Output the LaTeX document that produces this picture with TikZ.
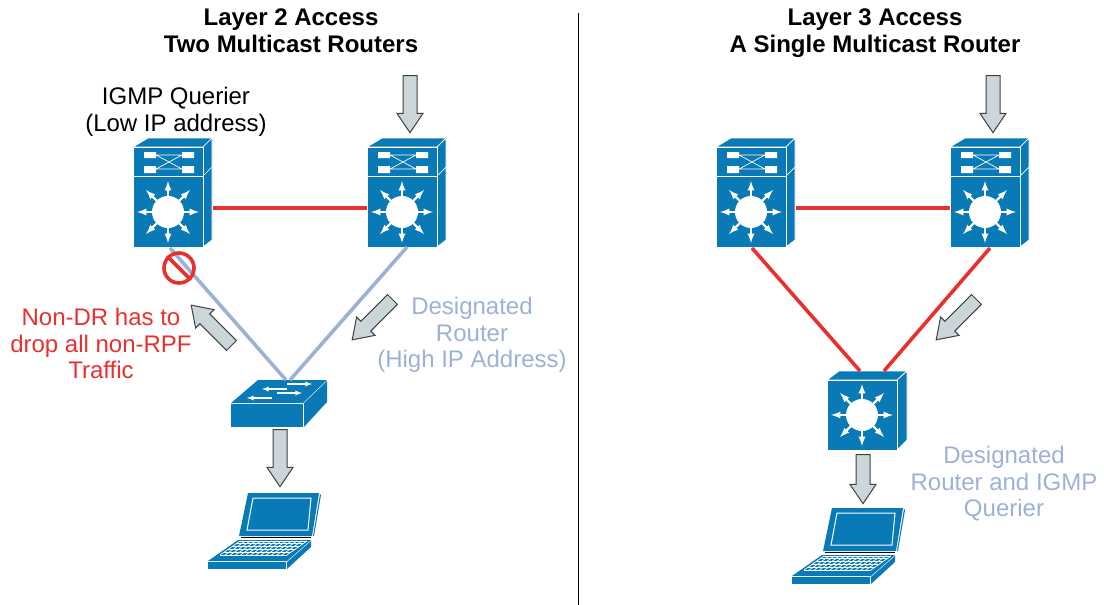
\documentclass[tikz,border=0pt]{standalone}
\usepackage{fontspec}
\setmainfont{Liberation Sans}
\usetikzlibrary{arrows,shapes,shapes.arrows,calc}
\definecolor{ciscoblue}{HTML}{0A7AB6}
\definecolor{linkred}{HTML}{E8302F}
\definecolor{linkblue}{HTML}{9DB1D6}
\definecolor{arrowgray}{HTML}{CBD6DB}

% star of arrows on a router face
\newcommand{\routerstar}[2]{
  \foreach \ang in {0,45,...,315}
    \draw[white, line width=2.2pt, -latex] (#1,#2) -- ++(\ang:31pt);
  \fill[white] (#1,#2) circle (16pt);
}
% layer 3 switch with two panels, origin at top left of the front
\newcommand{\stackedswitch}[3]{
  \begin{scope}[shift={(#2,#3)}]
    \node[hitbox, minimum width=80pt, minimum height=78pt] (#1) at (40,61) {};
    \filldraw[ciscoblue, draw=white, line width=0.7pt] (0,0) -- (15,-9) -- (79,-9) -- (70,0) -- cycle;
    \filldraw[ciscoblue, draw=white, line width=0.7pt] (70,0) -- (79,-9) -- (79,93) -- (70,100) -- cycle;
    \filldraw[ciscoblue, draw=white, line width=0.7pt] (0,0) rectangle (70,29);
    \filldraw[ciscoblue, draw=white, line width=0.7pt] (0,29) rectangle (70,100);
    \draw[white, line width=0.7pt] (70,29) -- (79,20);
    \fill[white] (11,5) rectangle (23,11) (11,19) rectangle (23,26);
    \fill[white] (49,5) rectangle (61,11) (49,19) rectangle (61,26);
    \draw[white, line width=0.7pt] (23,8) -- (49,8) (23,22) -- (49,22) (23,8) -- (49,22) (23,22) -- (49,8);
    \routerstar{35}{65}
  \end{scope}
}
% single router cube
\newcommand{\cuberouter}[3]{
  \begin{scope}[shift={(#2,#3)}]
    \node[hitbox, minimum width=80pt, minimum height=79pt] (#1) at (40,30.5) {};
    \filldraw[ciscoblue, draw=white, line width=0.7pt] (0,0) -- (12,-9) -- (80,-9) -- (70,0) -- cycle;
    \filldraw[ciscoblue, draw=white, line width=0.7pt] (70,0) -- (80,-9) -- (80,60) -- (70,70) -- cycle;
    \filldraw[ciscoblue, draw=white, line width=0.7pt] (0,0) rectangle (70,70);
    \routerstar{35}{35}
  \end{scope}
}
% flat access switch
\newcommand{\accessswitch}[3]{
  \begin{scope}[shift={(#2,#3)}]
    \node[hitbox, minimum width=96pt, minimum height=47pt] (#1) at (48,23.5) {};
    \fill[ciscoblue] (0,23) -- (27,0) -- (96,0) -- (72,23) -- cycle;
    \fill[ciscoblue] (0,24) rectangle (72,47);
    \fill[ciscoblue] (73,23) -- (96,1) -- (96,22) -- (73,47) -- cycle;
    \draw[white, line width=1.3pt, -latex] (56,4) -- (81,4);
    \draw[white, line width=1.3pt, -latex] (56,9) -- (31,9);
    \draw[white, line width=1.3pt, -latex] (46,13) -- (71,13);
    \draw[white, line width=1.3pt, -latex] (41,18) -- (16,18);
  \end{scope}
}
% laptop, origin at left corner and top of the screen
\newcommand{\laptop}[3]{
  \begin{scope}[shift={(#2,#3)}]
    \node[hitbox, minimum width=113pt, minimum height=76pt] (#1) at (56.5,38) {};
    \fill[ciscoblue] (40,0) -- (111,0) -- (104,43) -- (31,43) -- cycle;
    \fill[ciscoblue] (112,1) -- (113,2) -- (106,43) -- (105,43) -- cycle;
    \draw[white, line width=1pt] (45,5) -- (103,5) -- (100,37) -- (39,37) -- cycle;
    \draw[black, line width=0.8pt] (33,44) -- (103,44);
    \fill[ciscoblue] (30,47) -- (103,47) -- (79,68) -- (0,68) -- cycle;
    \fill[ciscoblue] (0,69) rectangle (78,76);
    \fill[ciscoblue] (79,69) -- (103,48) -- (103,54) -- (79,76) -- cycle;
    \foreach \row in {0,1,...,5}
      \draw[white, line width=0.7pt] (32-\row*4,48+\row*2.8) -- (99-\row*4,48+\row*2.8);
    \foreach \col in {0,1,...,13}
      \draw[white, line width=0.7pt] (32+\col*5.15,48) -- (12+\col*5.15,62);
  \end{scope}
}

\begin{document}
\begin{tikzpicture}[x=1pt, y=-1pt]
\tikzstyle{hitbox}=[rectangle, inner sep=0pt, outer sep=0pt]
\tikzstyle{title}=[anchor=north, inner sep=0pt, align=center, font=\fontsize{24}{27}\selectfont\bfseries]
\tikzstyle{caption}=[anchor=north, inner sep=0pt, align=center, font=\fontsize{24}{26.5}\selectfont]
\tikzstyle{bigarrow}=[single arrow, draw=black!75, fill=arrowgray, line width=1pt, inner xsep=0pt, inner ysep=6.5pt,
  single arrow head extend=6pt, single arrow head indent=0pt, single arrow tip angle=68]
\tikzstyle{redlink}=[linkred, line width=3.6pt]
\tikzstyle{bluelink}=[linkblue, line width=3.6pt]

  \useasboundingbox (0,0) rectangle (1104,605);

  % divider
  \node[hitbox] (divtop) at (578,12) {};
  \node[hitbox] (divbot) at (578,605) {};
  \draw[black, line width=0.9pt] (divtop) -- (divbot);

  % headings
  \node[title] (lefthead)  at (291,9) {Layer 2 Access\\Two Multicast Routers};
  \node[title] (righthead) at (875,9) {Layer 3 Access\\A Single Multicast Router};

  % devices
  \stackedswitch{sqa}{133}{147}
  \stackedswitch{drb}{367}{147}
  \stackedswitch{rta}{716}{147}
  \stackedswitch{rtb}{950}{147}
  \accessswitch{acc}{231}{380}
  \cuberouter{cube}{827}{380}
  \laptop{pca}{208}{493}
  \laptop{pcb}{792}{508}

  % links
  \draw[redlink] (sqa.east) -- (drb.west);
  \draw[redlink] (rta.east) -- (rtb.west);
  \draw[bluelink] ([xshift=-3pt, yshift=-1pt]sqa.south) -- ([xshift=7pt]acc.north);
  \draw[bluelink] (drb.south) -- ([xshift=11pt]acc.north);
  \draw[redlink] ([xshift=-4pt, yshift=-1pt]rta.south) -- ([xshift=-7pt]cube.north);
  \draw[redlink] ([yshift=-1pt]rtb.south) -- ([xshift=17pt]cube.north);

  % traffic arrows
  \node[bigarrow, minimum height=57pt, rotate=-90] (feeda) at (410,99) {};
  \node[bigarrow, minimum height=57pt, rotate=-90] (feedb) at (993,99) {};
  \node[bigarrow, minimum height=57pt, rotate=-135] (drflow) at (376,316) {};
  \node[bigarrow, minimum height=57pt, rotate=-135] (l3flow) at (960,316) {};
  \node[bigarrow, minimum height=57pt, rotate=135] (rpfflow) at (215,329) {};
  \node[bigarrow, minimum height=57pt, rotate=-90] (hosta) at (280,453) {};
  \node[bigarrow, minimum height=49pt, rotate=-90] (hostb) at (863,474) {};

  % blocked port
  \node[circle, draw=linkred, line width=3.6pt, minimum size=30pt, inner sep=0pt] (stop) at (179,268) {};
  \draw[linkred, line width=3.6pt] (stop.north west) -- (stop.south east);

  % labels
  \node[caption] (querier) at (176,87) {IGMP Querier\\(Low IP address)};
  \node[caption, text=linkred] (nondr) at (101,308) {Non-DR has to\\drop all non-RPF\\Traffic};
  \node[caption, text=linkblue] (drtext) at (472,297) {Designated\\Router\\(High IP Address)};
  \node[caption, text=linkblue] (drigmp) at (1004,446) {Designated\\Router and IGMP\\Querier};

\end{tikzpicture}
\end{document}
